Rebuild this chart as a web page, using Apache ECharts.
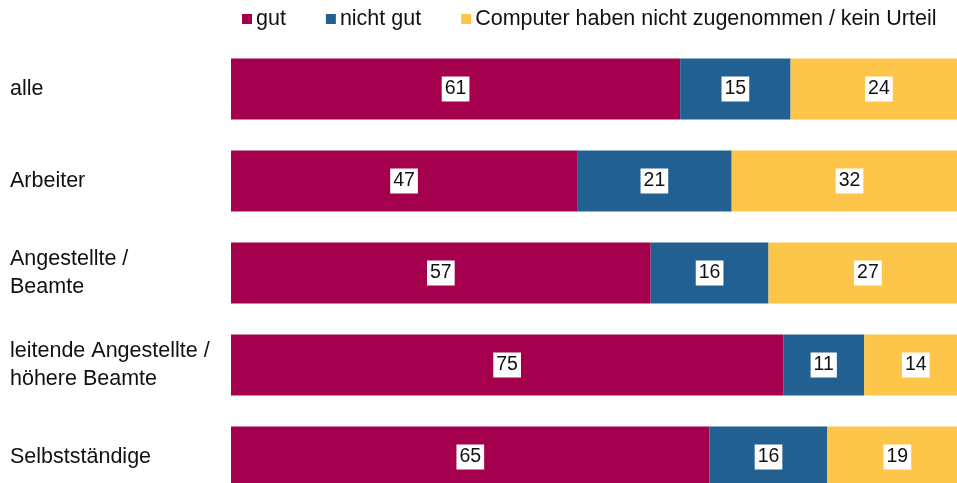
<!DOCTYPE html>
<html>
<head>
<meta charset="utf-8">
<script src="https://cdn.jsdelivr.net/npm/echarts@6/dist/echarts.min.js"></script>
<style>
  html, body { margin: 0; padding: 0; background: #ffffff; }
  #chart { width: 957px; height: 483px; }
</style>
</head>
<body>
<div id="chart"></div>
<script>
// Groups, top to bottom
const categories = [
  'alle',
  'Arbeiter',
  'Angestellte /\nBeamte',
  'leitende Angestellte /\nhöhere Beamte',
  'Selbstständige'
];
// Shares in percent per group
const gutValues = [61, 47, 57, 75, 65];
const nichtGutValues = [15, 21, 16, 11, 16];
const keinUrteilValues = [24, 32, 27, 14, 19];
const seriesNames = ['gut', 'nicht gut', 'Computer haben nicht zugenommen / kein Urteil'];

const colors = ['#A5004D', '#236092', '#FDC64B'];
const font = 'Arial, "Liberation Sans", sans-serif';

// The 100 % stack runs slightly past the right edge of the canvas.
const visibleMax = 98.6;

const valueLabel = {
  show: true,
  position: 'inside',
  color: '#111111',
  backgroundColor: '#ffffff',
  padding: [3, 3, 2, 3],
  fontFamily: font,
  fontSize: 19.5,
  lineHeight: 20
};

function makeSeries(name, data, color) {
  return {
    name: name,
    type: 'bar',
    stack: 'total',
    data: data,
    barWidth: 61,
    clip: false,
    itemStyle: { color: color },
    label: valueLabel,
    emphasis: { disabled: true }
  };
}

const chart = echarts.init(document.getElementById('chart'), null, { renderer: 'canvas' });
chart.setOption({
  animation: false,
  color: colors,
  legend: {
    top: 3,
    left: 237,
    itemWidth: 10,
    itemHeight: 10,
    itemGap: 40,
    icon: 'rect',
    textStyle: { fontFamily: font, fontSize: 21.5, color: '#111111', padding: [0, 0, 0, -1] },
    data: seriesNames
  },
  // Category points sit on the grid edges; the last bar is cut by the canvas bottom.
  grid: { left: 231, width: 726, top: 89, height: 368, containLabel: false },
  xAxis: {
    type: 'value',
    min: 0,
    max: visibleMax,
    show: false
  },
  yAxis: {
    type: 'category',
    inverse: true,
    boundaryGap: false,
    data: categories,
    axisLine: { show: false },
    axisTick: { show: false },
    axisLabel: {
      align: 'left',
      margin: 221,
      color: '#111111',
      fontFamily: font,
      fontSize: 21.5,
      lineHeight: 28
    }
  },
  series: [
    makeSeries(seriesNames[0], gutValues, colors[0]),
    makeSeries(seriesNames[1], nichtGutValues, colors[1]),
    makeSeries(seriesNames[2], keinUrteilValues, colors[2])
  ]
});
</script>
</body>
</html>
